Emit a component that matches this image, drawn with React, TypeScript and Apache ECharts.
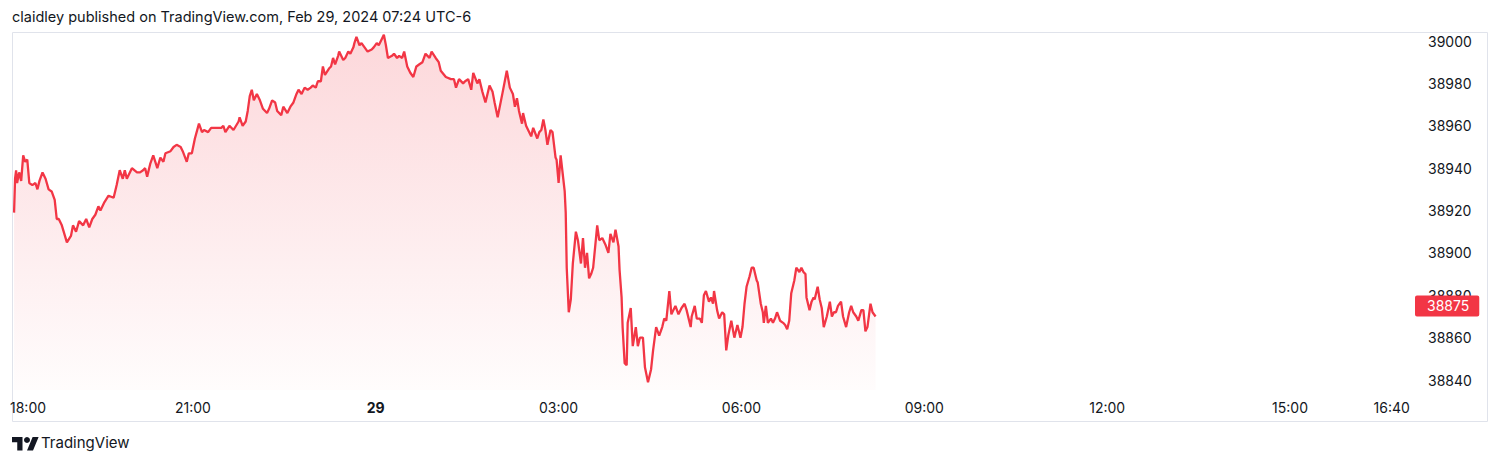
import React, { useEffect, useRef } from "react";
import * as echarts from "echarts";

// minutes elapsed since 18:00 (Feb 28) and the price at that minute
const minutes = [
  4, 5, 6, 7, 9, 11, 13, 15, 17, 19, 22, 25, 27, 29, 32, 35, 38, 41, 44, 46, 48, 51, 56, 60, 62, 65, 68, 72, 75, 78,
  81, 84, 87, 89, 93, 97, 102, 105, 108, 111, 113, 115, 120, 125, 128, 131, 133, 135, 138, 141, 145, 148, 151, 153,
  158, 161, 164, 168, 170, 174, 176, 179, 182, 186, 189, 191, 195, 198, 201, 205, 208, 210, 212, 216, 220, 225,
  226, 229, 232, 234, 236, 238, 240, 243, 246, 249, 253, 255, 258, 261, 263, 267, 269, 273, 276, 279, 282, 284,
  287, 290, 293, 296, 298, 301, 303, 306, 308, 310, 314, 316, 318, 320, 323, 324, 328, 330, 333, 335, 338, 339,
  341, 344, 346, 349, 352, 356, 358, 361, 363, 366, 368, 370, 372, 376, 378, 381, 383, 386, 388, 391, 394, 397,
  400, 403, 406, 409, 411, 413, 415, 419, 422, 424,
  429, 434, 437, 439, 442, 446, 448, 451, 454, 456, 460, 462, 465, 468, 472, 475, 477, 480, 485, 489, 492, 495,
  497, 499, 501, 504, 505, 508, 510, 513, 515, 519, 521, 523, 525, 527, 529, 532, 534, 537, 538, 540, 542, 546,
  547, 548, 550, 552, 554, 557, 559, 562, 564, 566, 568, 570, 572, 574, 576, 578, 580, 583, 586, 589, 591, 594,
  596, 599, 600, 602, 603, 605, 607, 608, 611, 613, 616, 618,
  620, 623, 625, 628, 631, 633, 636, 639, 642, 644, 646, 649, 651, 655, 658, 661, 664, 666, 670, 671, 674, 676,
  679, 681, 683, 685, 688, 690, 692, 693, 696, 698, 701, 703, 705, 707, 710, 713, 716, 719, 721, 723, 725, 728,
  730, 732, 735, 736, 739, 741, 742, 744, 746, 749, 751, 753, 755, 758, 761, 763, 765, 767, 769, 772, 774, 777,
  779, 781, 783, 784, 787, 789, 791, 792, 795, 797, 799, 801, 804, 807, 809, 811, 813, 815, 818, 820, 823, 826,
  828, 830, 833, 835, 838, 840, 842, 844, 847, 849, 852,
];

const prices = [
  38919, 38935, 38939, 38933, 38938, 38934, 38946, 38943, 38944, 38933, 38932, 38933, 38930, 38934, 38938, 38935,
  38930, 38929, 38925, 38916, 38916, 38913, 38905, 38908, 38913, 38910, 38915, 38913, 38916, 38912, 38916, 38918,
  38922, 38920, 38924, 38927, 38926, 38932, 38939, 38935, 38939, 38935, 38940, 38938, 38938, 38939, 38940, 38936,
  38942, 38946, 38940, 38945, 38943, 38947, 38948, 38950, 38951, 38950, 38948, 38943, 38947, 38947, 38954, 38961,
  38957, 38958, 38957, 38959, 38959, 38959, 38959, 38960, 38957, 38960, 38958, 38962,
  38964, 38960, 38962, 38967, 38974, 38977, 38972, 38975, 38972, 38968, 38966, 38968, 38972, 38971, 38967, 38965,
  38969, 38966, 38969, 38971, 38975, 38977, 38975, 38978, 38977, 38978, 38979, 38978, 38981, 38981, 38988, 38984,
  38987, 38988, 38992, 38989, 38993, 38995, 38991, 38992, 38995, 38994, 38997, 38999, 39002, 38998, 38999, 38997,
  38995, 38996, 38997, 38999, 38998, 39001, 39003, 38998, 38992, 38993, 38994, 38992, 38993, 38992, 38995, 38988,
  38985, 38983, 38988, 38989, 38990, 38994, 38993, 38992, 38995, 38992, 38990, 38986, 38983,
  38982, 38982, 38978, 38982, 38980, 38981, 38982, 38977, 38985, 38980, 38982, 38976, 38971, 38979, 38976, 38971,
  38964, 38976, 38986, 38978, 38975, 38969, 38973, 38967, 38961, 38966, 38960, 38958, 38955, 38959, 38954, 38957,
  38958, 38963, 38958, 38951, 38958, 38957, 38945, 38944, 38933, 38946, 38929, 38919, 38893, 38872, 38878, 38895,
  38910, 38906, 38895, 38907, 38893, 38900, 38888, 38890, 38893, 38903, 38913, 38906, 38907, 38904, 38900, 38909,
  38905, 38911, 38903, 38892, 38879, 38865, 38848, 38847, 38867, 38874, 38856, 38865, 38856, 38860,
  38860, 38846, 38839, 38845, 38854, 38865, 38861, 38865, 38869, 38868, 38882, 38871, 38875, 38871, 38874, 38876,
  38873, 38865, 38870, 38875, 38869, 38869, 38867, 38880, 38882, 38877, 38879, 38876, 38882, 38873, 38869, 38872,
  38871, 38854, 38861, 38868, 38860, 38866, 38860, 38865, 38876, 38884, 38889, 38893, 38893, 38887, 38886, 38876,
  38872, 38867, 38875, 38867, 38869, 38867, 38869, 38872, 38868, 38867, 38866, 38864, 38868, 38881, 38887, 38893,
  38891, 38893, 38891, 38890, 38879, 38873, 38877, 38879, 38878, 38884, 38878, 38874, 38865, 38870, 38877, 38870,
  38872, 38872, 38875, 38877, 38870, 38865, 38872, 38875, 38872, 38870, 38868, 38873, 38873, 38863, 38865, 38876,
  38872, 38870, 38875,
];

const timeTickMinutes = [0, 180, 360, 540, 720, 900, 1080, 1260, 1360];
const timeTickLabels = ["18:00", "21:00", "29", "03:00", "06:00", "09:00", "12:00", "15:00", "16:40"];
const dayTickLabel = "29";
const priceTicks = [38840, 38860, 38880, 38900, 38920, 38940, 38960, 38980, 39000];
const lastPrice = 38875;
const headerText = "claidley published on TradingView.com, Feb 29, 2024 07:24 UTC-6";
const brandText = "TradingView";

const RED = "#f23645";
const INK = "#131722";
const FONT = "Inter, 'Noto Sans', sans-serif";

const LOGO_D = "M14 22H7V11H0V4h14v18zM28 22h-8l7.5-18h8L28 22z";
let logoRegistered = false;

export default function App() {
  const ref = useRef<HTMLDivElement>(null);

  useEffect(() => {
    if (!ref.current) return;
    if (!logoRegistered) {
      echarts.graphic.registerShape("tvlogo", echarts.graphic.extendPath(LOGO_D, {}));
      logoRegistered = true;
    }
    const chart = echarts.init(ref.current, undefined, { renderer: "svg" });
    const data = minutes.map((m, i) => [m, prices[i]]);

    chart.setOption({
      animation: false,
      backgroundColor: "#ffffff",
      textStyle: { fontFamily: FONT },
      grid: { left: 10, right: 87, top: 32, bottom: 75, containLabel: false },
      xAxis: {
        type: "value",
        min: 0,
        max: 1381,
        axisLine: { show: false },
        axisTick: { show: false },
        splitLine: { show: false },
        axisLabel: {
          customValues: timeTickMinutes,
          alignMinLabel: "left",
          color: INK,
          fontSize: 14,
          fontFamily: FONT,
          margin: 10,
          formatter: (v: number) => {
            const i = timeTickMinutes.indexOf(v);
            const t = i >= 0 ? timeTickLabels[i] : "";
            return t === dayTickLabel ? `{b|${t}}` : t;
          },
          rich: {
            b: { fontWeight: "bold", fontSize: 14, color: INK, fontFamily: FONT },
          },
        },
      },
      yAxis: {
        type: "value",
        position: "right",
        min: 38835.3,
        max: 39004.25,
        axisLine: { show: false },
        axisTick: { show: false },
        splitLine: { show: false },
        axisLabel: {
          customValues: priceTicks,
          align: "left",
          margin: 15,
          color: INK,
          fontSize: 14,
          fontFamily: FONT,
          formatter: (v: number) => String(v),
        },
      },
      series: [
        {
          type: "line",
          data,
          showSymbol: false,
          symbol: "none",
          lineStyle: { color: RED, width: 2.3 },
          itemStyle: { color: RED },
          areaStyle: {
            color: new echarts.graphic.LinearGradient(0, 0, 0, 1, [
              { offset: 0, color: "rgba(242,54,69,0.28)" },
              { offset: 1, color: "rgba(242,54,69,0.02)" },
            ]),
          },
          markLine: {
            silent: true,
            symbol: ["none", "none"],
            lineStyle: { color: "transparent", width: 0 },
            data: [{ yAxis: lastPrice }],
            label: {
              show: true,
              position: "end",
              distance: 2,
              formatter: String(lastPrice),
              color: "#ffffff",
              backgroundColor: RED,
              padding: [4, 10, 3, 12],
              borderRadius: 2,
              fontSize: 14,
              fontFamily: FONT,
            },
          },
        },
      ],
      graphic: [
        {
          type: "rect",
          silent: true,
          z: 0,
          shape: { x: 12.5, y: 32.5, width: 1475, height: 389 },
          style: { fill: "none", stroke: "#e0e3eb", lineWidth: 1 },
        },
        {
          type: "text",
          left: 12,
          top: 9,
          style: { text: headerText, font: `14.5px ${FONT}`, fill: INK },
        },
        {
          type: "tvlogo",
          x: 12,
          y: 434,
          scaleX: 0.75,
          scaleY: 0.75,
          style: { fill: INK },
        },
        {
          type: "circle",
          shape: { cx: 27, cy: 440, r: 3 },
          style: { fill: INK },
        },
        {
          type: "text",
          left: 41,
          top: 435,
          style: { text: brandText, font: `15px ${FONT}`, fill: INK },
        },
      ],
    });

    return () => chart.dispose();
  }, []);

  return (
    <div
      ref={ref}
      style={{ position: "absolute", left: 0, top: 0, width: 1500, height: 465, background: "#fff" }}
    />
  );
}
